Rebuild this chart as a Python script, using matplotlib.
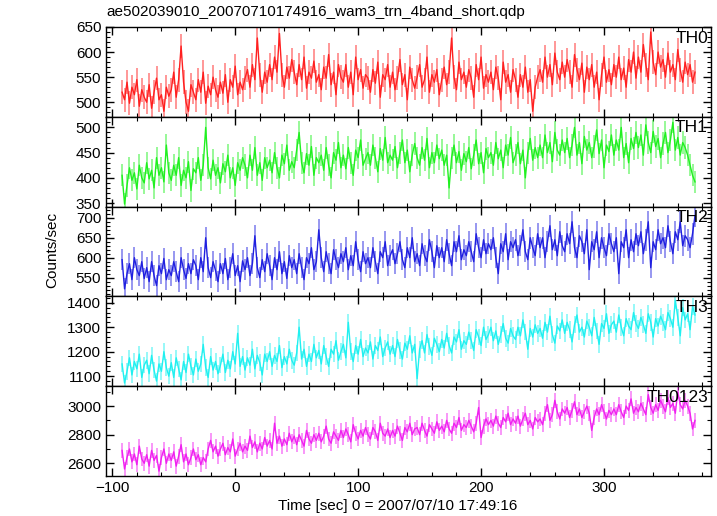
import numpy as np
import matplotlib
matplotlib.use("Agg")
import matplotlib.pyplot as plt
from matplotlib.ticker import MultipleLocator

plt.rcParams['font.family'] = ['Liberation Sans', 'DejaVu Sans']

# time bins (2 s) from -92 to 374 s
time = np.arange(-92, 376, 2)

th0 = [520, 505, 540, 498, 530, 515, 545, 492, 525, 510,
       500, 535, 488, 520, 548, 505, 515, 482, 530, 512,
       525, 560, 510, 545, 612, 540, 500, 482, 535, 520,
       505, 545, 520, 560, 498, 532, 515, 550, 525, 510,
       540, 518, 555, 500, 545, 530, 572, 515, 540, 525,
       548, 565, 530, 575, 545, 628, 555, 520, 560, 540,
       575, 545, 590, 560, 637, 555, 530, 570, 548, 585,
       560, 535, 575, 545, 590, 528, 560, 548, 582, 540,
       555, 525, 570, 548, 595, 535, 560, 515, 575, 550,
       540, 575, 530, 560, 515, 590, 545, 565, 528, 555,
       548, 520, 565, 538, 580, 510, 555, 545, 575, 530,
       560, 525, 548, 585, 535, 555, 505, 570, 545, 528,
       550, 575, 530, 545, 590, 520, 555, 540, 565, 515,
       545, 570, 535, 560, 628, 550, 525, 580, 545, 560,
       530, 565, 548, 510, 575, 545, 590, 528, 555, 540,
       560, 525, 570, 548, 505, 580, 540, 555, 520, 565,
       545, 510, 555, 530, 570, 520, 545, 482, 530, 550,
       565, 540, 590, 550, 575, 535, 598, 560, 545, 580,
       550, 585, 560, 530, 595, 565, 545, 578, 520, 570,
       545, 575, 530, 560, 505, 555, 590, 540, 565, 535,
       575, 550, 590, 545, 568, 530, 585, 560, 600, 548,
       590, 560, 615, 575, 545, 640, 580, 555, 600, 570,
       585, 550, 598, 560, 575, 545, 605, 565, 540, 580,
       555, 575, 540, 560]

th1 = [405, 348, 385, 420, 395, 410, 378, 425, 400, 390,
       430, 398, 415, 380, 440, 405, 420, 392, 465, 410,
       395, 425, 405, 440, 385, 415, 400, 432, 375, 418,
       410, 440, 395, 425, 500, 420, 398, 435, 405, 420,
       390, 428, 412, 445, 400, 420, 385, 430, 415, 440,
       425, 400, 445, 415, 460, 405, 430, 395, 440, 420,
       435, 410, 450, 420, 400, 445, 428, 465, 415, 432,
       420, 455, 490, 430, 410, 448, 425, 462, 405, 440,
       430, 445, 415, 460, 425, 400, 450, 435, 470, 420,
       445, 418, 460, 430, 405, 455, 440, 475, 425, 438,
       450, 425, 465, 440, 412, 458, 435, 480, 430, 445,
       435, 462, 420, 450, 475, 430, 455, 412, 445, 468,
       440, 425, 460, 435, 478, 420, 450, 430, 465, 438,
       455, 425, 445, 380, 440, 465, 430, 452, 415, 448,
       432, 460, 418, 445, 475, 428, 450, 410, 458, 440,
       450, 425, 470, 438, 455, 420, 465, 445, 480, 430,
       445, 470, 428, 455, 400, 450, 478, 435, 460, 440,
       465, 440, 485, 450, 470, 432, 490, 455, 445, 475,
       450, 478, 440, 465, 500, 445, 470, 428, 482, 455,
       470, 440, 462, 495, 448, 475, 420, 465, 452, 485,
       445, 475, 455, 500, 440, 468, 430, 478, 458, 490,
       460, 485, 445, 505, 470, 450, 492, 462, 478, 440,
       468, 490, 450, 475, 510, 455, 480, 445, 470, 460,
       445, 425, 405, 392]

th2 = [595, 522, 560, 585, 545, 600, 570, 555, 590, 548,
       575, 540, 590, 555, 530, 580, 560, 598, 545, 570,
       555, 590, 565, 540, 600, 570, 548, 585, 560, 595,
       580, 545, 600, 565, 650, 575, 550, 590, 568, 540,
       585, 560, 598, 545, 575, 610, 555, 580, 540, 592,
       570, 600, 555, 585, 655, 575, 550, 595, 565, 610,
       580, 545, 600, 570, 615, 560, 590, 548, 605, 575,
       595, 560, 610, 575, 545, 600, 585, 625, 570, 590,
       670, 600, 565, 615, 585, 560, 620, 595, 575, 610,
       590, 625, 570, 605, 580, 640, 595, 565, 615, 585,
       600, 575, 625, 590, 560, 615, 600, 640, 580, 605,
       620, 585, 610, 640, 595, 575, 625, 600, 650, 590,
       610, 580, 635, 605, 590, 645, 615, 575, 630, 600,
       625, 590, 645, 610, 580, 640, 615, 655, 595, 620,
       605, 640, 615, 590, 660, 625, 600, 645, 610, 635,
       620, 650, 600, 560, 635, 615, 660, 595, 640, 625,
       645, 605, 630, 670, 615, 595, 650, 625, 605, 660,
       625, 650, 600, 640, 680, 620, 645, 605, 665, 630,
       615, 660, 635, 690, 625, 600, 655, 640, 610, 670,
       570, 640, 620, 665, 600, 650, 625, 605, 660, 635,
       615, 650, 560, 640, 625, 670, 600, 645, 615, 660,
       630, 665, 610, 645, 690, 575, 640, 620, 670, 635,
       650, 625, 680, 640, 610, 665, 645, 690, 630, 655,
       645, 625, 660, 705]

th3 = [1150, 1072, 1120, 1175, 1105, 1160, 1130, 1190, 1095, 1145,
       1165, 1110, 1185, 1125, 1080, 1150, 1120, 1200, 1135, 1100,
       1155, 1095, 1175, 1130, 1085, 1160, 1115, 1190, 1140, 1105,
       1170, 1120, 1150, 1230, 1135, 1095, 1180, 1125, 1160, 1110,
       1145, 1190, 1115, 1165, 1130, 1200, 1150, 1275, 1140, 1180,
       1125, 1175, 1145, 1210, 1130, 1185, 1155, 1105, 1190, 1160,
       1200, 1140, 1185, 1160, 1225, 1135, 1180, 1150, 1210, 1165,
       1145, 1195, 1300, 1170, 1210, 1140, 1190, 1160, 1230, 1175,
       1205, 1150, 1225, 1180, 1140, 1210, 1190, 1245, 1165, 1200,
       1230, 1175, 1320, 1200, 1160, 1225, 1190, 1250, 1180, 1215,
       1195, 1240, 1170, 1225, 1205, 1260, 1180, 1215, 1240, 1190,
       1225, 1180, 1250, 1205, 1170, 1235, 1210, 1265, 1195, 1230,
       1090, 1210, 1245, 1195, 1270, 1220, 1185, 1255, 1230, 1200,
       1250, 1215, 1275, 1225, 1195, 1260, 1240, 1290, 1210, 1245,
       1230, 1280, 1245, 1205, 1290, 1260, 1225, 1300, 1250, 1270,
       1300, 1245, 1285, 1230, 1270, 1315, 1255, 1235, 1295, 1265,
       1250, 1300, 1265, 1330, 1280, 1210, 1295, 1260, 1310, 1275,
       1295, 1255, 1320, 1280, 1345, 1270, 1235, 1305, 1285, 1330,
       1275, 1320, 1290, 1240, 1310, 1350, 1280, 1300, 1260, 1325,
       1300, 1265, 1340, 1285, 1230, 1315, 1295, 1355, 1275, 1310,
       1325, 1280, 1350, 1300, 1265, 1335, 1305, 1290, 1360, 1315,
       1295, 1340, 1310, 1275, 1355, 1320, 1260, 1335, 1305, 1345,
       1320, 1290, 1360, 1335, 1300, 1410, 1340, 1265, 1380, 1330,
       1355, 1290, 1385, 1350]

th0123 = [2690, 2560, 2640, 2700, 2610, 2665, 2590, 2720, 2630, 2600,
          2660, 2580, 2690, 2620, 2655, 2545, 2640, 2700, 2600, 2665,
          2620, 2680, 2580, 2650, 2730, 2610, 2665, 2590, 2640, 2700,
          2625, 2660, 2590, 2640, 2610, 2700, 2760, 2680, 2720, 2650,
          2700, 2740, 2660, 2710, 2680, 2770, 2650, 2700, 2740, 2680,
          2720, 2690, 2790, 2710, 2750, 2680, 2740, 2700, 2780, 2720,
          2760, 2700, 2880, 2740, 2790, 2720, 2770, 2730, 2810, 2750,
          2790, 2730, 2800, 2760, 2720, 2830, 2770, 2740, 2800, 2760,
          2810, 2750, 2790, 2860, 2770, 2740, 2820, 2790, 2760, 2830,
          2780, 2840, 2800, 2750, 2870, 2810, 2770, 2830, 2790, 2850,
          2800, 2770, 2850, 2820, 2760, 2880, 2810, 2790, 2840, 2780,
          2830, 2790, 2860, 2810, 2760, 2850, 2820, 2880, 2800, 2840,
          2850, 2800, 2880, 2830, 2790, 2870, 2840, 2810, 2890, 2830,
          2860, 2820, 2900, 2840, 2810, 2880, 2850, 2920, 2830, 2870,
          2850, 2900, 2860, 2820, 2880, 2990, 2780, 2860, 2910, 2870,
          2900, 2860, 2930, 2880, 2850, 2920, 2890, 2950, 2870, 2910,
          2880, 2930, 2860, 2910, 2950, 2870, 2900, 2840, 2920, 2890,
          2910, 2870, 2950, 3010, 2900, 2940, 3040, 2960, 2910, 2980,
          2950, 2990, 2920, 2970, 3030, 2940, 2980, 2920, 2960, 3000,
          2950, 2830, 2920, 2980, 2940, 3010, 2960, 2910, 2970, 2940,
          2980, 2940, 3010, 2960, 2920, 3000, 2970, 3050, 2950, 2990,
          2960, 3020, 2980, 2940, 3080, 2990, 2950, 3010, 2970, 3040,
          3000, 2960, 3060, 2990, 3020, 2950, 3100, 3010, 2980, 3040,
          3000, 2950, 2840, 2900]

labels = ['TH0', 'TH1', 'TH2', 'TH3', 'TH0123']
series = [th0, th1, th2, th3, th0123]
errors = [24, 22, 27, 34, 52]
colors = ['#ff2020', '#20f020', '#2020e0', '#20f0f0', '#f020f0']
ylims = [(471, 650), (343, 521), (503, 728), (1059, 1426), (2511, 3139)]
major = [50, 50, 50, 100, 200]
minor = [10, 10, 10, 20, 100]

fig = plt.figure(figsize=(7.17, 5.16), dpi=100)
axes = fig.subplots(5, 1, sharex=True)
fig.subplots_adjust(left=0.148, right=0.9916, top=0.9477, bottom=0.0775, hspace=0)

for i, ax in enumerate(axes):
    y = np.array(series[i])
    # light error bars, then the curve on top
    ax.errorbar(time, y, yerr=errors[i], fmt='none', ecolor=colors[i],
                elinewidth=1.3, alpha=0.5, zorder=2)
    ax.plot(time, y, '-', color=colors[i], lw=1.0, zorder=3)
    ax.set_ylim(*ylims[i])
    ax.set_xlim(-105, 387)
    ax.yaxis.set_major_locator(MultipleLocator(major[i]))
    ax.yaxis.set_minor_locator(MultipleLocator(minor[i]))
    ax.xaxis.set_major_locator(MultipleLocator(100))
    ax.xaxis.set_minor_locator(MultipleLocator(20))
    ax.tick_params(which='both', direction='in', top=True, right=True, labelsize=11)
    ax.tick_params(which='major', length=6, width=1)
    ax.tick_params(which='minor', length=3, width=0.8)
    for s in ax.spines.values():
        s.set_linewidth(1.0)
    ax.text(0.995, 0.96, labels[i], transform=ax.transAxes, ha='right', va='top',
            fontsize=12.5, zorder=5)

axes[-1].set_xticks([-100, 0, 100, 200, 300])
axes[-1].set_xticklabels(['\u2212100', '0', '100', '200', '300'])

fig.text(0.149, 1 - 12 / 516, 'ae502039010_20070710174916_wam3_trn_4band_short.qdp',
         ha='left', va='center', fontsize=11)
fig.text(52 / 717, 1 - 250 / 516, 'Counts/sec', rotation=90, ha='center', va='center', fontsize=11)
fig.text(398 / 717, 1 - 506 / 516, 'Time [sec] 0 = 2007/07/10 17:49:16',
         ha='center', va='center', fontsize=11)

fig.savefig('out.png', dpi=100)
